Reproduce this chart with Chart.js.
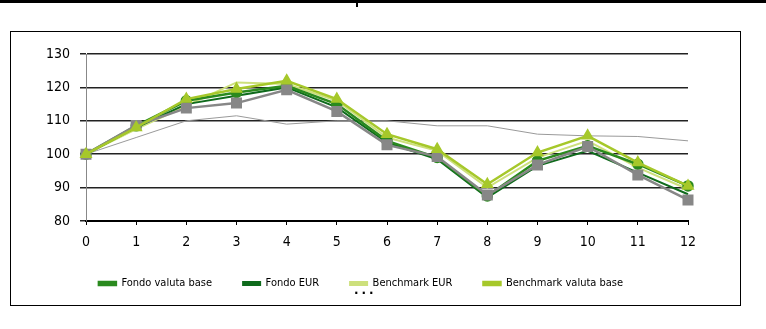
<!DOCTYPE html>
<html>
<head>
<meta charset="utf-8">
<script src="https://cdn.jsdelivr.net/npm/chart.js@4.4.1/dist/chart.umd.min.js"></script>
<style>
  body { margin: 0; background: #fff; width: 766px; height: 329px; position: relative; overflow: hidden; }
  #topline { position: absolute; left: 0; top: 0; width: 766px; height: 3px; background: #000; }
  #topmark { position: absolute; left: 356px; top: 3px; width: 2px; height: 4px; background: #000; }
  #frame { position: absolute; left: 10px; top: 31px; width: 729px; height: 273px; border: 1px solid #000; }
  #dots { position: absolute; left: 354px; top: 283px; font: bold 12px "DejaVu Sans"; letter-spacing: 3px; color: #000; }
</style>
</head>
<body>
<div id="topline"></div>
<div id="topmark"></div>
<div id="frame"><canvas id="perfChart" width="729" height="273"></canvas></div>
<div id="dots">...</div>
<script>
  var mesi = ['0', '1', '2', '3', '4', '5', '6', '7', '8', '9', '10', '11', '12'];

  var fondoValutaBase = [100, 108.5, 116, 118.5, 120.5, 115, 104, 99, 87.5, 98, 102.5, 97, 90.5];
  var fondoEur = [100, 108, 115, 117.5, 120, 114, 103.5, 98.5, 87, 96.5, 101, 94.5, 88];
  var benchmarkEur = [100, 107.5, 114.5, 121.5, 121, 116, 105, 101, 90, 99, 104, 96, 89.5];
  var benchmarkValutaBase = [100, 108, 116.5, 119.5, 122, 116.5, 106, 101.5, 91, 100.5, 105.5, 97.5, 90.5];
  var serieGrigia = [100, 108.6, 113.8, 115.3, 119.3, 112.8, 102.8, 99.3, 87.8, 96.8, 102.3, 93.8, 86.3];
  var serieSottile = [100, 105, 110, 111.5, 109, 110, 110, 108.5, 108.5, 106, 105.5, 105.3, 104];

  var yTicks = [80, 90, 100, 110, 120, 130];

  var narrow = '"DejaVu Sans Condensed", "Liberation Sans Narrow", sans-serif';

  var ctx = document.getElementById('perfChart').getContext('2d');
  var perfChart = new Chart(ctx, {
    type: 'line',
    data: {
      labels: mesi,
      datasets: [
        { label: 'Fondo valuta base', data: fondoValutaBase, borderColor: '#2a8a1e', backgroundColor: '#2a8a1e',
          borderWidth: 2.5, pointStyle: 'circle', pointRadius: 4.5, order: 3 },
        { label: 'Fondo EUR', data: fondoEur, borderColor: '#0f6b1c', backgroundColor: '#0f6b1c',
          borderWidth: 2, pointRadius: 0, order: 4 },
        { label: 'Benchmark EUR', data: benchmarkEur, borderColor: '#cde07c', backgroundColor: '#cde07c',
          borderWidth: 2, pointRadius: 0, order: 5 },
        { label: 'Benchmark valuta base', data: benchmarkValutaBase, borderColor: '#a6c82a', backgroundColor: '#a6c82a',
          borderWidth: 2.5, pointStyle: 'triangle', pointRadius: 5, order: 1 },
        { label: 'grigio', data: serieGrigia, borderColor: '#878787', backgroundColor: '#878787',
          borderWidth: 2.5, pointStyle: 'rect', pointRadius: 6, order: 2 },
        { label: 'sottile', data: serieSottile, borderColor: '#9a9a9a', backgroundColor: '#9a9a9a',
          borderWidth: 1, pointRadius: 0, order: 6 }
      ]
    },
    options: {
      responsive: false,
      animation: false,
      elements: { line: { tension: 0 }, point: { borderWidth: 0, hoverRadius: 0 } },
      layout: { padding: { top: 22, right: 52, left: 23, bottom: 6 } },
      plugins: {
        tooltip: { enabled: false },
        legend: {
          position: 'bottom',
          labels: {
            filter: function (item) { return item.datasetIndex < 4; },
            sort: function (a, b) { return a.datasetIndex - b.datasetIndex; },
            boxWidth: 17,
            boxHeight: 3,
            padding: 31,
            color: '#000',
            font: { family: narrow, size: 11 }
          }
        }
      },
      scales: {
        x: {
          grid: { drawOnChartArea: false, drawTicks: true, tickLength: 4, color: '#000' },
          border: { color: '#000', width: 2 },
          ticks: { color: '#000', padding: 9, font: { family: narrow, size: 14 } },
          afterFit: function (axis) { axis.height = 26; }
        },
        y: {
          min: 80,
          max: 130,
          afterBuildTicks: function (axis) { axis.ticks = yTicks.map(function (v) { return { value: v }; }); },
          grid: { color: '#222', lineWidth: 1.5, tickLength: 6 },
          border: { color: '#888', width: 1 },
          ticks: { color: '#000', padding: 10, font: { family: narrow, size: 14 } },
          afterFit: function (axis) { axis.width = 52; }
        }
      }
    }
  });
</script>
</body>
</html>
